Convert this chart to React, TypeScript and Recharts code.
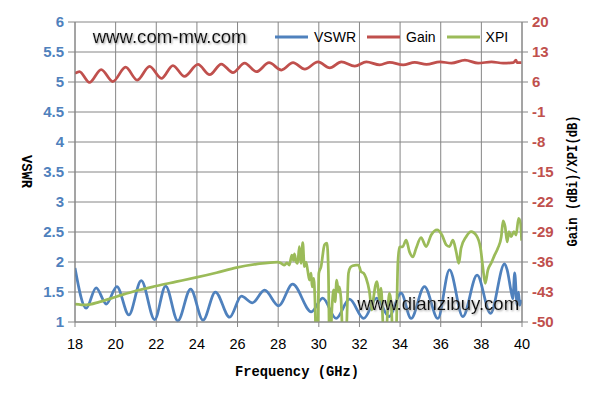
import React from "react";
import { LineChart, Line, XAxis, YAxis, CartesianGrid, Legend } from "recharts";

// ---- Data ----
const freqTicks = [18, 20, 22, 24, 26, 28, 30, 32, 34, 36, 38, 40];
const vswrTicks = [1, 1.5, 2, 2.5, 3, 3.5, 4, 4.5, 5, 5.5, 6];
const dbTicks = [-50, -43, -36, -29, -22, -15, -8, -1, 6, 13, 20];
const seriesNames = ["VSWR", "Gain", "XPI"];

const vswrFreq = [
  18.0, 18.55, 19.04, 19.54, 20.06, 20.65, 21.26, 21.92, 22.46, 23.06, 23.69, 24.3, 24.91, 25.61,
  26.19, 26.73, 27.33, 28.02, 28.71, 29.63, 30.19, 30.85, 31.51, 32.21, 32.85, 33.45, 34.05, 34.54,
  35.2, 35.86, 36.43, 37.09, 37.79, 38.45, 39.14, 39.27, 39.47, 39.55, 39.64, 39.76, 39.83, 39.88, 39.97,
];
const vswrValues = [
  1.9, 1.23, 1.57, 1.3, 1.59, 1.12, 1.69, 1.04, 1.6, 1.02, 1.55, 1.03, 1.5, 1.08,
  1.43, 1.32, 1.53, 1.27, 1.63, 1.17, 1.4, 1.06, 1.38, 1.06, 1.4, 1.09, 1.48, 1.06,
  1.59, 1.06, 1.87, 1.09, 1.78, 1.145, 1.97, 1.87, 1.5, 1.39, 1.82, 1.28, 1.5, 1.28, 1.37,
];

const gainFreq = [
  18.0, 18.22, 18.71, 19.29, 19.86, 20.49, 21.06, 21.67, 22.25, 22.82, 23.39, 24.05, 24.63, 25.2,
  25.77, 26.35, 26.93, 27.55, 28.16, 28.73, 29.31, 29.96, 30.54, 31.11, 31.77, 32.34, 33.0, 33.49,
  34.15, 34.72, 35.3, 35.96, 36.53, 37.19, 37.84, 38.5, 39.07, 39.57, 39.7, 39.76, 39.97,
];
const gainValues = [
  8.0, 8.4, 5.9, 8.9, 6.1, 9.45, 6.45, 9.65, 6.85, 9.85, 7.3, 10.1, 7.7, 10.2,
  8.2, 10.4, 8.4, 10.5, 8.8, 10.5, 9.0, 10.7, 9.3, 10.7, 9.7, 10.7, 10.0, 10.6,
  10.0, 10.6, 10.1, 10.7, 10.4, 11.1, 10.4, 10.7, 10.4, 10.5, 11.1, 10.5, 10.5,
];

const xpiFreq = [
  18.0, 18.55, 19.21, 20.03, 21.01, 22.0, 22.99, 23.97, 24.96, 25.94, 26.93, 27.98,
  28.14, 28.31, 28.43, 28.55, 28.67, 28.75, 28.8, 28.88, 28.96, 29.04, 29.12, 29.21, 29.29,
  29.37, 29.45, 29.54, 29.62, 29.67, 29.75, 29.81, 29.86, 29.95, 30.0, 30.11, 30.28, 30.4,
  30.47, 30.52, 30.58, 30.65, 30.73, 30.8, 30.88, 30.97, 31.01, 31.09, 31.18, 31.34, 31.46,
  31.56, 31.67, 31.83, 31.95, 32.08, 32.21, 32.33, 32.49, 32.61, 32.7, 32.79, 32.87, 32.99,
  33.06, 33.2, 33.31, 33.39, 33.48, 33.56, 33.64, 33.8, 33.89, 33.97, 34.13, 34.3, 34.46,
  34.63, 34.79, 35.03, 35.28, 35.53, 35.82, 36.06, 36.27, 36.43, 36.6, 36.76, 36.89, 37.0,
  37.25, 37.5, 37.74, 37.96, 38.07, 38.19, 38.32, 38.48, 38.65, 38.81, 38.98, 39.07, 39.17,
  39.27, 39.36, 39.47, 39.6, 39.71, 39.83, 39.93, 39.98,
];
const xpiValues = [
  -45.8, -46.0, -45.3, -44.1, -42.7, -41.6, -40.6, -39.6, -38.5, -37.3, -36.5, -36.0,
  -36.3, -36.7, -36.2, -36.7, -34.4, -35.6, -34.1, -35.9, -36.3, -32.4, -36.3, -31.5, -37.1,
  -36.0, -37.9, -40.2, -38.6, -41.8, -39.8, -44.9, -53, -53, -38.6, -37.1, -32.0, -31.6,
  -38.0, -53, -53, -46.4, -42.5, -45.3, -40.2, -43.0, -41.8, -44.5, -53, -53, -38.6,
  -37.2, -36.9, -36.7, -36.7, -38.3, -38.6, -39.8, -42.9, -47.2, -44.1, -41.4, -40.6, -44.9,
  -42.1, -53, -53, -47.2, -43.3, -45.5, -53, -53, -36.3, -32.5, -32.4, -30.9, -33.6,
  -34.8, -32.8, -30.3, -32.4, -29.7, -28.5, -29.7, -32.0, -32.4, -30.9, -33.6, -36.3, -32.8,
  -30.1, -28.9, -29.7, -32.8, -37.1, -41.0, -37.9, -36.3, -34.4, -32.8, -30.1, -26.4, -27.8,
  -31.3, -28.9, -30.1, -28.9, -29.7, -25.8, -27.0, -31.0,
];

const toSeries = (fs: number[], vs: number[]) => fs.map((f, i) => ({ f, v: vs[i] }));
const vswrData = toSeries(vswrFreq, vswrValues);
const gainData = toSeries(gainFreq, gainValues);
const xpiData = toSeries(xpiFreq, xpiValues);

const BLUE = "#4F81BD";
const RED = "#C0504D";
const GREEN = "#9BBB59";
const GRID = "#868686";

const renderLegend = (props: any) => {
  const payload = [...(props.payload || [])].sort(
    (a: any, b: any) => seriesNames.indexOf(a.value) - seriesNames.indexOf(b.value)
  );
  return (
    <div
      style={{
        display: "flex",
        alignItems: "center",
        fontFamily: "'Liberation Sans', Arial, sans-serif",
        fontSize: 14,
        color: "#000",
        whiteSpace: "nowrap",
        lineHeight: "16px",
      }}
    >
      {payload.map((e: any) => (
        <div key={e.value} style={{ display: "flex", alignItems: "center", marginRight: 11 }}>
          <svg width={33} height={4} style={{ display: "block" }}>
            <line x1={0} y1={2} x2={33} y2={2} stroke={e.color} strokeWidth={3} />
          </svg>
          <span style={{ marginLeft: 6 }}>{e.value}</span>
        </div>
      ))}
    </div>
  );
};

export default function App() {
  return (
    <div style={{ position: "absolute", left: 0, top: 0, width: 595, height: 404, background: "#fff" }}>
      <LineChart width={595} height={404} margin={{ top: 22, right: 33, left: 35, bottom: 52 }}>
        <CartesianGrid yAxisId="left" stroke={GRID} strokeWidth={1} horizontal vertical />
        <XAxis
          dataKey="f"
          type="number"
          domain={[18, 40]}
          ticks={freqTicks}
          allowDataOverflow
          height={30}
          stroke={GRID}
          tickSize={5}
          tickMargin={12}
          tick={{ fill: "#000", fontSize: 14.5, fontFamily: "'Liberation Sans', Arial, sans-serif" }}
        />
        <YAxis
          yAxisId="left"
          orientation="left"
          domain={[1, 6]}
          ticks={vswrTicks}
          width={40}
          stroke={GRID}
          tickSize={7}
          tickMargin={4}
          tick={{ fill: BLUE, fontSize: 15, fontWeight: "bold", fontFamily: "'Liberation Sans', Arial, sans-serif" }}
        />
        <YAxis
          yAxisId="right"
          orientation="right"
          domain={[-50, 20]}
          ticks={dbTicks}
          allowDataOverflow
          width={40}
          stroke={GRID}
          tickSize={6}
          tickMargin={4}
          tick={{ fill: RED, fontSize: 15, fontWeight: "bold", fontFamily: "'Liberation Sans', Arial, sans-serif" }}
        />
        <Legend
          layout="horizontal"
          verticalAlign="middle"
          align="center"
          content={renderLegend}
          wrapperStyle={{ left: 275, top: 29, width: 260, height: 16 }}
        />
        <Line
          name="VSWR"
          data={vswrData}
          dataKey="v"
          yAxisId="left"
          type="monotone"
          stroke={BLUE}
          strokeWidth={2.75}
          dot={false}
          isAnimationActive={false}
        />
        <Line
          name="Gain"
          data={gainData}
          dataKey="v"
          yAxisId="right"
          type="monotone"
          stroke={RED}
          strokeWidth={2.75}
          dot={false}
          isAnimationActive={false}
        />
        <Line
          name="XPI"
          data={xpiData}
          dataKey="v"
          yAxisId="right"
          type="monotone"
          stroke={GREEN}
          strokeWidth={2.75}
          dot={false}
          isAnimationActive={false}
        />
      </LineChart>
      <svg
        width={595}
        height={404}
        style={{ position: "absolute", left: 0, top: 0, pointerEvents: "none" }}
      >
        <defs>
          <filter id="wmShadow" x="-5%" y="-30%" width="115%" height="170%">
            <feDropShadow dx="1" dy="1" stdDeviation="0.8" floodColor="#8a8a8a" floodOpacity="0.9" />
          </filter>
        </defs>
        <text
          x={92.7}
          y={43.3}
          fontFamily="'Liberation Sans', Arial, sans-serif"
          fontSize={18.6}
          fill="#111"
          filter="url(#wmShadow)"
        >
          www.com-mw.com
        </text>
        <text
          x={357.3}
          y={310}
          fontFamily="'Liberation Sans', Arial, sans-serif"
          fontSize={18.6}
          fill="#111"
          filter="url(#wmShadow)"
        >
          www.dianzibuy.com
        </text>
        <text
          x={297}
          y={376}
          textAnchor="middle"
          fontFamily="'Liberation Mono', monospace"
          fontWeight="bold"
          fontSize={15}
          textLength={124}
          lengthAdjust="spacingAndGlyphs"
          fill="#000"
        >
          Frequency (GHz)
        </text>
        <text
          x={22}
          y={171.5}
          textAnchor="middle"
          transform="rotate(90 22 171.5)"
          fontFamily="'Liberation Mono', monospace"
          fontWeight="bold"
          fontSize={15}
          textLength={33}
          lengthAdjust="spacingAndGlyphs"
          fill="#000"
        >
          VSWR
        </text>
        <text
          x={577}
          y={181}
          textAnchor="middle"
          transform="rotate(-90 577 181)"
          fontFamily="'Liberation Mono', monospace"
          fontWeight="bold"
          fontSize={14}
          textLength={131}
          lengthAdjust="spacingAndGlyphs"
          fill="#000"
        >
          Gain (dBi)/XPI(dB)
        </text>
      </svg>
    </div>
  );
}
